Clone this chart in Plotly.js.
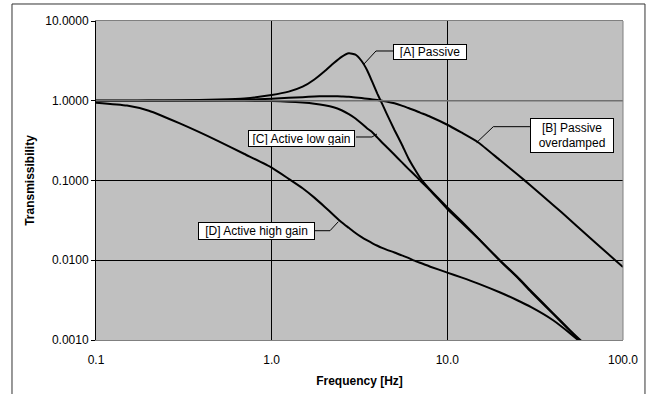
<!DOCTYPE html>
<html>
<head>
<meta charset="utf-8">
<script src="https://cdn.plot.ly/plotly-3.0.1.min.js"></script>
<style>html,body{margin:0;padding:0;background:#fff;}#chart{width:653px;height:394px;}</style>
</head>
<body>
<div id="chart"></div>
<script>
// Frequencies [Hz]
const freq = [0.1,0.15,0.2,0.3,0.5,0.7,1,1.25,1.5,1.75,2,2.25,2.5,2.75,3,3.25,3.5,3.75,4,4.25,4.5,5,5.5,6,6.5,7,8,10,12,15,20,25,30,40,50,60,70,80,90,100];
// [A] Passive
const passive = [1.0,1.0,1.005,1.01,1.035,1.07,1.18,1.3,1.5,1.85,2.35,2.95,3.55,3.93,3.78,3.15,2.4,1.7,1.22,0.92,0.70,0.43,0.285,0.19,0.14,0.108,0.076,0.046,0.031,0.0188,0.0098,0.0061,0.0040,0.00213,0.00130,0.00088,0.00063,0.00048,0.00038,0.00031];
// [B] Passive overdamped
const overdamped = [1.0,1.0,1.0,1.005,1.015,1.03,1.06,1.09,1.11,1.13,1.14,1.14,1.13,1.12,1.1,1.08,1.06,1.04,1.02,1.0,0.98,0.93,0.87,0.81,0.76,0.71,0.63,0.5,0.4,0.3,0.179,0.12,0.0853,0.0494,0.032,0.0223,0.0165,0.0127,0.0101,0.0082];
// [C] Active low gain
const lowGain = [1.0,1.0,1.0,1.0,1.0,0.998,0.99,0.975,0.95,0.92,0.88,0.83,0.76,0.68,0.6,0.52,0.45,0.40,0.345,0.30,0.265,0.21,0.17,0.14,0.118,0.1,0.075,0.044,0.030,0.0187,0.0099,0.0062,0.0041,0.00216,0.00132,0.0009,0.00065,0.00049,0.00039,0.00031];
// [D] Active high gain
const highGain = [0.945,0.87,0.75,0.52,0.31,0.215,0.145,0.105,0.08,0.061,0.047,0.037,0.030,0.0255,0.022,0.0195,0.0177,0.0163,0.0152,0.0143,0.0136,0.0125,0.0115,0.0107,0.0099,0.0093,0.0083,0.0070,0.0061,0.0051,0.00394,0.00315,0.00258,0.00177,0.00121,0.00086,0.00063,0.00048,0.00038,0.0003];

const xTickVals = [0.1,1,10,100];
const xTickText = ["0.1","1.0","10.0","100.0"];
const yTickVals = [0.001,0.01,0.1,1,10];
const yTickText = ["0.0010","0.0100","0.1000","1.0000","10.0000"];

const labels = ["[A] Passive","[B] Passive<br>overdamped","[C] Active low gain","[D] Active high gain"];

const FONT = "Liberation Sans, Arial, sans-serif";
const series = [passive, overdamped, lowGain, highGain];
const names = ["[A] Passive","[B] Passive overdamped","[C] Active low gain","[D] Active high gain"];
const traces = series.map((s,i)=>({
  x: freq, y: s, type:'scatter', mode:'lines', name: names[i],
  line:{color:'#000000', width:2, shape:'spline', smoothing:0.5}, hoverinfo:'skip'
}));

// label boxes (paper coords, centre) and sizes
const boxPos = [[0.6347,0.9028],[0.9032,0.6395],[0.390,0.6332],[0.3046,0.3426]];
const boxSize = [[70,12],[80,31],[103,13],[113,14]];
const annotations = labels.map((t,i)=>({
  text:t, xref:'paper', yref:'paper', x:boxPos[i][0], y:boxPos[i][1],
  xanchor:'center', yanchor:'middle',
  width:boxSize[i][0], height:boxSize[i][1],
  showarrow:false, bgcolor:'#ffffff', bordercolor:'#000000', borderwidth:1, borderpad:1,
  font:{family:FONT, size:12, color:'#000'}, align:'center', valign:'middle'
}));

const leaders = [
  [[0.5085,0.8652],[0.5313,0.906],[0.5636,0.906]],
  [[0.7224,0.6191],[0.7539,0.6687],[0.8235,0.6687]],
  [[0.4934,0.6364],[0.5237,0.6364],[0.5332,0.6458]],
  [[0.4156,0.3426],[0.444,0.3426],[0.4598,0.3708]]
];
const shapes = leaders.map(p=>({
  type:'path', xref:'paper', yref:'paper', layer:'above',
  path:'M '+p.map(q=>q[0]+','+q[1]).join(' L '),
  line:{color:'#000', width:1}
}));
// x axis line crossing at y = 1 (gray)
shapes.push({type:'line', xref:'paper', yref:'paper', x0:0, x1:1, y0:0.75, y1:0.75, layer:'above', line:{color:'#707070', width:1.5}});
// right border
shapes.push({type:'line', xref:'paper', yref:'paper', x0:1, x1:1, y0:0, y1:1, layer:'above', line:{color:'#808080', width:1}});
// outer chart frame
shapes.push({type:'rect', xref:'paper', yref:'paper', x0:-0.1594, x1:1.0417, y0:-0.3, y1:1.0533, layer:'below', line:{color:'#333333', width:1}});

const layout = {
  width:653, height:394,
  margin:{l:96, r:30, t:21, b:54},
  paper_bgcolor:'#ffffff', plot_bgcolor:'#c0c0c0',
  showlegend:false,
  font:{family:FONT, size:12, color:'#000'},
  xaxis:{
    type:'log', range:[-1,2], tickvals:xTickVals, ticktext:xTickText,
    showgrid:true, gridcolor:'#000000', gridwidth:1,
    showline:true, linecolor:'#808080', linewidth:1, mirror:true,
    ticks:'', ticklabelstandoff:9, tickfont:{family:FONT, size:12},
    title:{text:'Frequency [Hz]', font:{family:FONT, size:12, weight:'bold'}, standoff:10},
    zeroline:false
  },
  yaxis:{
    type:'log', range:[-3,1], tickvals:yTickVals, ticktext:yTickText,
    showgrid:true, gridcolor:'#000000', gridwidth:1,
    showline:true, linecolor:'#000000', linewidth:1,
    ticks:'outside', ticklen:4, tickcolor:'#000', tickfont:{family:FONT, size:12},
    title:{text:'Transmissibility', font:{family:FONT, size:12, weight:'bold'}, standoff:8},
    zeroline:false
  },
  annotations: annotations,
  shapes: shapes
};

Plotly.newPlot('chart', traces, layout, {displayModeBar:false, staticPlot:true});
</script>
</body>
</html>
